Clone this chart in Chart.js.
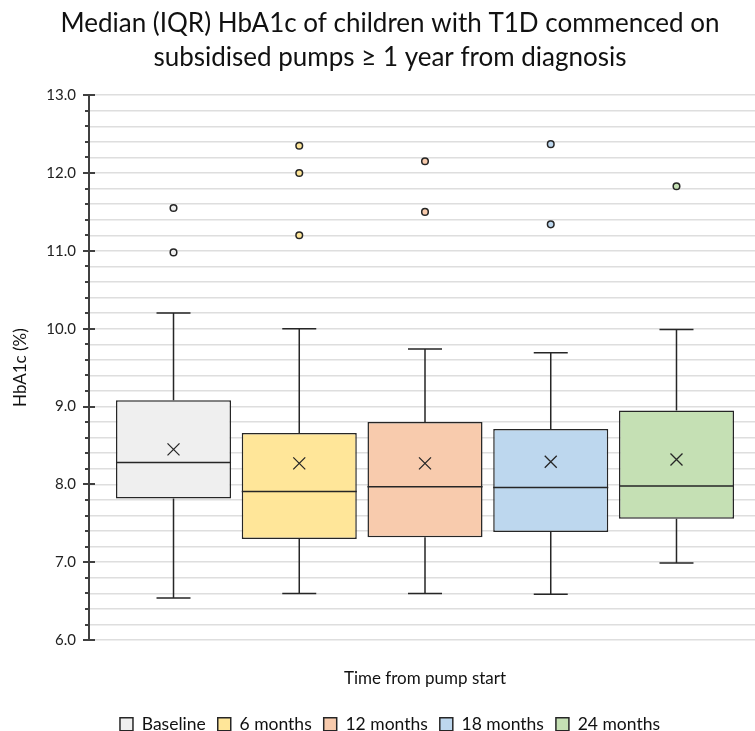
<!DOCTYPE html>
<html>
<head>
<meta charset="utf-8">
<script src="https://cdn.jsdelivr.net/npm/chart.js@4"></script>
<style>
  html, body { margin: 0; padding: 0; background: #fff; overflow: hidden; }
  #wrap { width: 780px; height: 731px; position: relative; }
</style>
</head>
<body>
<div id="wrap"><canvas id="chart"></canvas></div>
<script>
// box plot values
let groups = ["Baseline", "6 months", "12 months", "18 months", "24 months"];
let colors = ["#efefef", "#ffe699", "#f8cbad", "#bdd7ee", "#c5e0b4"];
let q1 = [7.82, 7.30, 7.32, 7.39, 7.56];
let q3 = [9.08, 8.66, 8.80, 8.71, 8.95];
let medians = [8.28, 7.91, 7.97, 7.96, 7.98];
let means = [8.45, 8.27, 8.27, 8.29, 8.32];
let whiskerLow = [6.54, 6.60, 6.60, 6.59, 6.99];
let whiskerHigh = [10.20, 10.00, 9.74, 9.69, 9.99];
let outliers = [[11.55, 10.98], [12.35, 12.00, 11.20], [12.15, 11.50], [12.37, 11.34], [11.83]];

let ink = "#262626";
let fontName = "Lato, 'Open Sans', sans-serif";

let boxExtras = {
    id: "boxExtras",
    afterDatasetsDraw(chart) {
        let ctx = chart.ctx;
        let y = chart.scales.y;
        ctx.save();
        ctx.strokeStyle = ink;
        groups.forEach((g, i) => {
            let bar = chart.getDatasetMeta(i).data[0];
            if (!bar) return;
            let x = bar.x;
            let half = bar.width / 2;
            let cap = 17;
            // whiskers
            ctx.lineWidth = 1.5;
            ctx.beginPath();
            ctx.moveTo(x, y.getPixelForValue(q3[i]));
            ctx.lineTo(x, y.getPixelForValue(whiskerHigh[i]));
            ctx.moveTo(x - cap, y.getPixelForValue(whiskerHigh[i]));
            ctx.lineTo(x + cap, y.getPixelForValue(whiskerHigh[i]));
            ctx.moveTo(x, y.getPixelForValue(q1[i]));
            ctx.lineTo(x, y.getPixelForValue(whiskerLow[i]));
            ctx.moveTo(x - cap, y.getPixelForValue(whiskerLow[i]));
            ctx.lineTo(x + cap, y.getPixelForValue(whiskerLow[i]));
            // median
            ctx.moveTo(x - half, y.getPixelForValue(medians[i]));
            ctx.lineTo(x + half, y.getPixelForValue(medians[i]));
            ctx.stroke();
            // mean cross
            let my = y.getPixelForValue(means[i]);
            ctx.lineWidth = 1.3;
            ctx.beginPath();
            ctx.moveTo(x - 6, my - 6);
            ctx.lineTo(x + 6, my + 6);
            ctx.moveTo(x + 6, my - 6);
            ctx.lineTo(x - 6, my + 6);
            ctx.stroke();
            // outliers
            ctx.lineWidth = 1.5;
            outliers[i].forEach(v => {
                ctx.beginPath();
                ctx.arc(x, y.getPixelForValue(v), 3.3, 0, Math.PI * 2);
                ctx.fillStyle = colors[i];
                ctx.fill();
                ctx.stroke();
            });
        });
        ctx.restore();
    },
    afterDraw(chart) {
        // tick marks on the value axis
        let ctx = chart.ctx;
        let y = chart.scales.y;
        let ax = chart.chartArea.left;
        ctx.save();
        ctx.strokeStyle = "#404040";
        ctx.lineWidth = 2;
        ctx.beginPath();
        y.ticks.forEach(t => {
            let py = Math.round(y.getPixelForValue(t.value));
            let major = Math.abs(t.value - Math.round(t.value)) < 1e-6;
            if (major) {
                ctx.moveTo(ax - 6, py);
                ctx.lineTo(ax + 6, py);
            } else {
                ctx.moveTo(ax - 4, py);
                ctx.lineTo(ax, py);
            }
        });
        ctx.stroke();
        ctx.restore();
    }
};

let chart = new Chart(document.getElementById("chart").getContext("2d"), {
    type: "bar",
    data: {
        labels: [""],
        datasets: groups.map((g, i) => ({
            label: g,
            data: [[q1[i], q3[i]]],
            backgroundColor: colors[i],
            borderColor: ink,
            borderWidth: 1.5,
            borderSkipped: false,
            barPercentage: 0.915,
            categoryPercentage: 0.9356
        }))
    },
    options: {
        responsive: true,
        maintainAspectRatio: false,
        animation: false,
        layout: { padding: { left: 0, right: 0, top: 7, bottom: -12 } },
        plugins: {
            title: {
                display: true,
                text: ["Median (IQR) HbA1c of children with T1D commenced on", "subsidised pumps \u2265 1 year from diagnosis"],
                color: "#111",
                font: { family: fontName, size: 26, weight: "normal", lineHeight: 1.31 },
                padding: { top: 0, bottom: 20 }
            },
            legend: {
                position: "bottom",
                labels: {
                    color: "#111",
                    font: { family: fontName, size: 17.5 },
                    boxWidth: 13,
                    boxHeight: 13,
                    padding: 12
                }
            },
            tooltip: { enabled: false }
        },
        scales: {
            x: {
                grid: { display: false, drawTicks: false },
                border: { display: false },
                ticks: { display: false },
                title: {
                    display: true,
                    text: "Time from pump start",
                    color: "#111",
                    font: { family: fontName, size: 17 },
                    padding: { top: 28, bottom: 15 }
                }
            },
            y: {
                min: 6,
                max: 13,
                afterFit: s => { s.width = 89; },
                ticks: {
                    stepSize: 0.2,
                    autoSkip: false,
                    padding: 13,
                    color: "#222",
                    font: { family: fontName, size: 15 },
                    callback: v => Math.abs(v - Math.round(v)) < 1e-6 ? Number(v).toFixed(1) : ""
                },
                grid: { color: "#dedede", lineWidth: 1.5, drawTicks: false },
                border: { display: true, color: "#404040", width: 2 },
                title: {
                    display: true,
                    text: "HbA1c (%)",
                    color: "#111",
                    font: { family: fontName, size: 17 },
                    padding: { top: 10, bottom: 0 }
                }
            },
            // empty right-hand axis, only keeps room on the right
            yRight: {
                position: "right",
                min: 6,
                max: 13,
                afterFit: s => { s.width = 19; },
                ticks: { display: false },
                grid: { display: false, drawTicks: false },
                border: { display: false }
            }
        }
    },
    plugins: [boxExtras]
});
</script>
</body>
</html>
